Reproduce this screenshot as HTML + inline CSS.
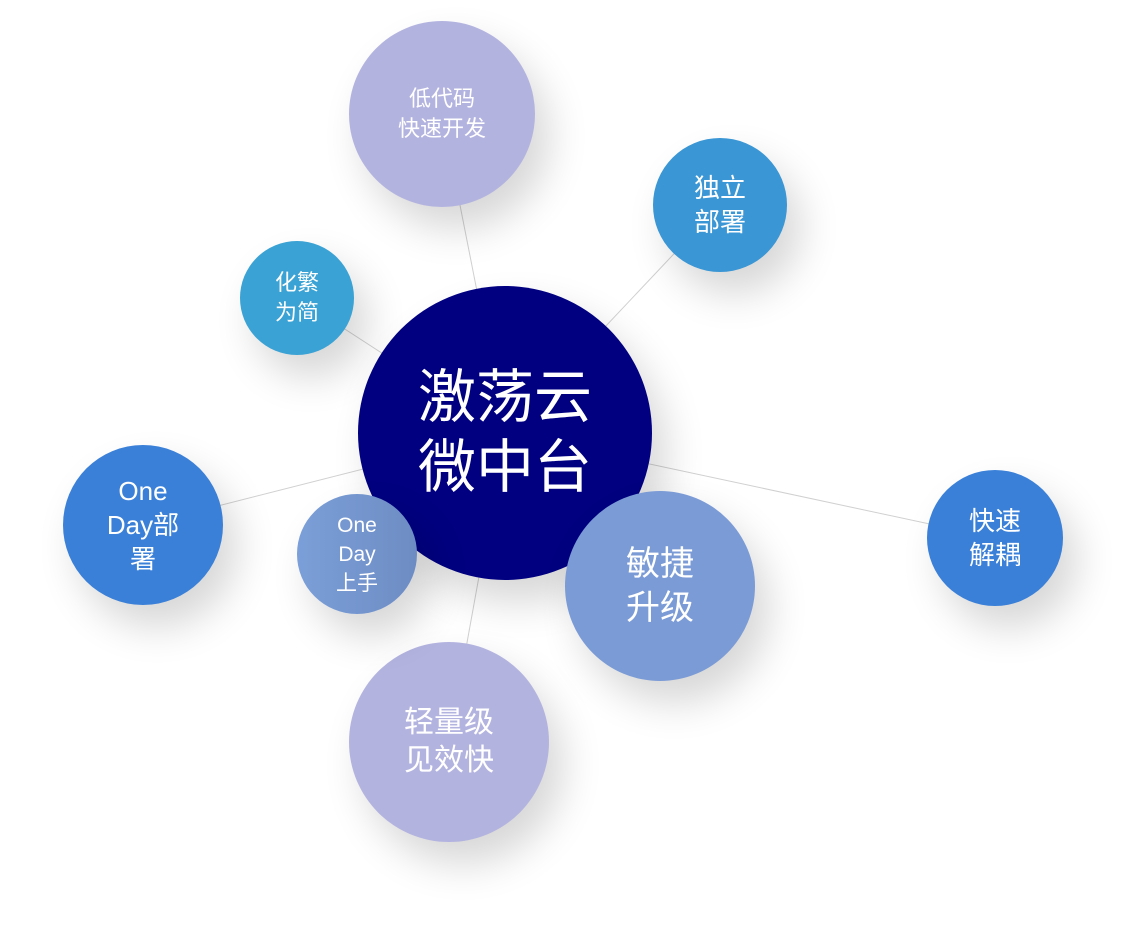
<!DOCTYPE html>
<html><head><meta charset="utf-8"><style>
html,body{margin:0;padding:0;background:#fff;width:1126px;height:947px;overflow:hidden}
.c{position:absolute;border-radius:50%;display:flex;align-items:center;justify-content:center;text-align:center;color:#fff;font-family:"Liberation Sans","Noto Sans CJK SC",sans-serif;box-shadow:14px 22px 40px rgba(0,0,0,0.16)}
</style></head><body>
<svg width="1126" height="947" style="position:absolute;left:0;top:0">
<g stroke="#d0d0d0" stroke-width="1">
<line x1="505" y1="433" x2="442" y2="114"/>
<line x1="505" y1="433" x2="720" y2="205"/>
<line x1="505" y1="433" x2="297" y2="298"/>
<line x1="505" y1="433" x2="143" y2="525"/>
<line x1="505" y1="433" x2="995" y2="538"/>
<line x1="505" y1="433" x2="449" y2="742"/>
</g></svg>
<div class="c" style="left:349px;top:21px;width:186px;height:186px;background:#b3b3e0;font-size:22px;line-height:30px">低代码<br>快速开发</div>
<div class="c" style="left:653px;top:138px;width:134px;height:134px;background:#3a96d4;font-size:26px;line-height:34px">独立<br>部署</div>
<div class="c" style="left:240px;top:241px;width:114px;height:114px;background:#3aa2d4;font-size:22px;line-height:30px">化繁<br>为简</div>
<div class="c" style="left:63px;top:445px;width:160px;height:160px;background:#3a80d8;font-size:26px;line-height:34px">One<br>Day部<br>署</div>
<div class="c" style="left:927px;top:470px;width:136px;height:136px;background:#3a80d8;font-size:26px;line-height:34px">快速<br>解耦</div>
<div class="c" style="left:349px;top:642px;width:200px;height:200px;background:#b3b3e0;font-size:30px;line-height:38px">轻量级<br>见效快</div>
<div class="c" style="left:358px;top:286px;width:294px;height:294px;background:#000080;font-size:58px;line-height:70px">激荡云<br>微中台</div>
<div class="c" style="left:297px;top:494px;width:120px;height:120px;background:linear-gradient(90deg,#7b9fd8,#6e8cc4);font-size:21px;line-height:29px">One<br>Day<br>上手</div>
<div class="c" style="left:565px;top:491px;width:190px;height:190px;background:#7b9bd6;font-size:34px;line-height:44px">敏捷<br>升级</div>
</body></html>
